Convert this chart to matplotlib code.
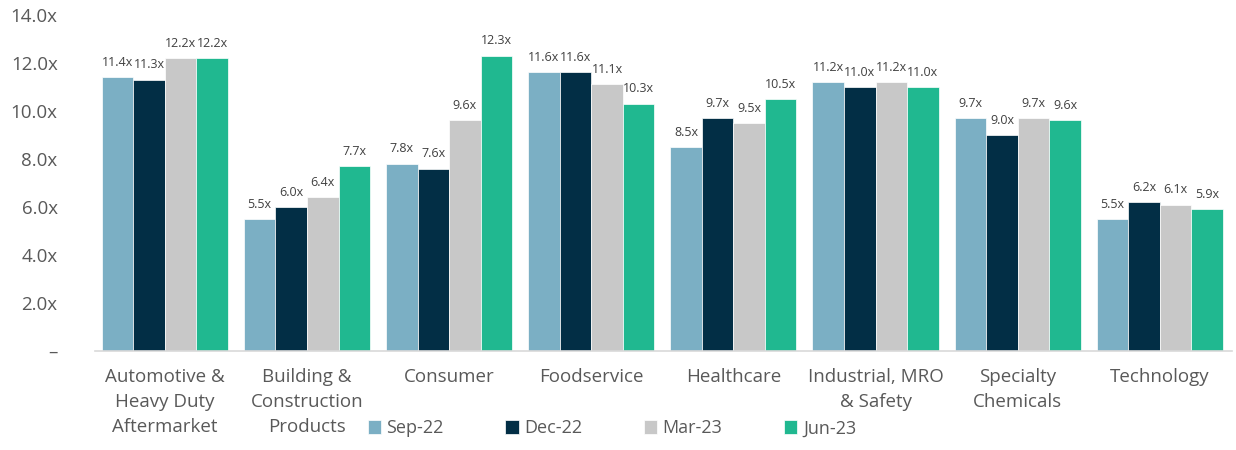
import matplotlib
matplotlib.use("Agg")
import matplotlib.pyplot as plt
import numpy as np

categories = ["Automotive &\nHeavy Duty\nAftermarket", "Building &\nConstruction\nProducts", "Consumer",
              "Foodservice", "Healthcare", "Industrial, MRO\n& Safety", "Specialty\nChemicals", "Technology"]
series_names = ["Sep-22", "Dec-22", "Mar-23", "Jun-23"]
sep22 = [11.4, 5.5, 7.8, 11.6, 8.5, 11.2, 9.7, 5.5]
dec22 = [11.3, 6.0, 7.6, 11.6, 9.7, 11.0, 9.0, 6.2]
mar23 = [12.2, 6.4, 9.6, 11.1, 9.5, 11.2, 9.7, 6.1]
jun23 = [12.2, 7.7, 12.3, 10.3, 10.5, 11.0, 9.6, 5.9]
yticks = [0, 2, 4, 6, 8, 10, 12, 14]
ytick_labels = ["–", "2.0x", "4.0x", "6.0x", "8.0x", "10.0x", "12.0x", "14.0x"]

colors = ["#7BAFC4", "#022E45", "#C8C8C8", "#20B890"]
plt.rcParams['font.family'] = ['Open Sans', 'DejaVu Sans']
grey = "#595959"

fig = plt.figure(figsize=(12.36, 4.5), dpi=100)
ax = fig.add_axes([0.077, 0.22, 0.92, 0.747])

x = np.arange(len(categories))
bw = 0.222
for i, (vals, name, c) in enumerate(zip([sep22, dec22, mar23, jun23], series_names, colors)):
    pos = x + (i - 1.5) * bw
    ax.bar(pos, vals, width=bw, color=c, label=name, edgecolor="white", linewidth=0.5)
    for p, v in zip(pos, vals):
        ax.annotate(f"{v:.1f}x", (p, v), xytext=(0, 6), textcoords="offset points",
                    ha="center", va="bottom", fontsize=9, color="#404040")

ax.set_xlim(-0.49, len(categories) - 0.49)
ax.set_ylim(0, 14)
ax.set_yticks(yticks)
ax.set_yticklabels(ytick_labels, fontsize=13.5, color=grey)
ax.set_xticks(x)
ax.set_xticklabels(categories, fontsize=13.5, color=grey, linespacing=1.5)
ax.tick_params(axis="y", length=0, pad=27)
ax.tick_params(axis="x", length=0, pad=12)
for s in ["top", "right", "left"]:
    ax.spines[s].set_visible(False)
ax.spines["bottom"].set_color("#D9D9D9")
ax.spines["bottom"].set_linewidth(1.2)

leg = fig.legend(loc="center", bbox_to_anchor=(0.495, 0.048), ncol=4, frameon=False,
                 fontsize=13, handlelength=0.75, handleheight=0.75, handletextpad=0.3,
                 columnspacing=3.4)
for t in leg.get_texts():
    t.set_color(grey)

fig.savefig("out.png", dpi=100)
